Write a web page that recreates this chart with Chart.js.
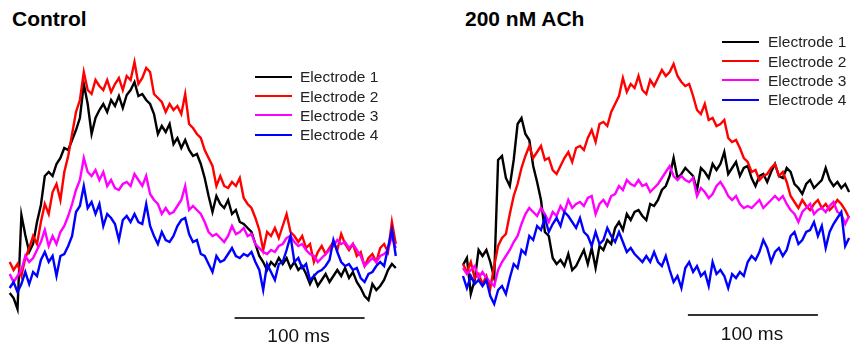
<!DOCTYPE html>
<html>
<head>
<meta charset="utf-8">
<script src="https://cdn.jsdelivr.net/npm/chart.js@4"></script>
<style>
  html, body { margin:0; padding:0; background:#fff; }
  body { width:854px; height:352px; position:relative; overflow:hidden; font-family:"Liberation Sans", Arial, sans-serif; color:#111; }
  canvas { position:absolute; }
  .title { position:absolute; font-weight:bold; font-size:21px; line-height:21px; color:#000; white-space:nowrap; }
  .leg { position:absolute; font-size:15.5px; line-height:15.5px; color:#222; white-space:nowrap; }
  .legline { position:absolute; height:2px; width:37px; }
  .sb { position:absolute; font-size:19px; line-height:19px; color:#111; white-space:nowrap; transform:translateX(-50%); }
</style>
</head>
<body>
<canvas id="c1" width="427" height="300" style="left:0px;top:30px;"></canvas>
<canvas id="c2" width="427" height="300" style="left:427px;top:30px;"></canvas>
<div id="overlay"></div>
<script>
// ---- data (time in ms, amplitudes in arbitrary units) ----
const timeMs = [0,3,6,9,12,15,18,21,24,27,30,33,36,39,42,45,48,51,54,57,60,63,66,69,72,75,78,81,84,87,90,93,96,99,102,105,108,111,114,117,120,123,126,129,132,135,138,141,144,147,150,153,156,159,162,165,168,171,174,177,180,183,186,189,192,195,198,201,204,207,210,213,216,219,222,225,228,231,234,237,240,243,246,249,252,255,258,261,264,267,270,273,276,279,282,285,288,291,294,297];

const seriesNames = ["Electrode 1","Electrode 2","Electrode 3","Electrode 4"];
const panelTitles = ["Control","200 nM ACh"];
const scaleBarLabel = "100 ms";
const scaleBarTime = [173, 273];

// Control
const ctrlE1 = [3.5,1,-4.5,42.5,32.5,24,28,39,47.5,62,
  64,62,68,71,76,75,80,85,91,108,
  98,83,91,95,98,94,100,97,102,96,
  102.5,105,109,102,103,100,98,93,83,87,
  84,88,78,81,76,80,75,72,73,68,
  61,52,44,52,48,46,50,43,45,39,
  38,36,34,28,22,19,15,19,17,21,
  18,21,16,19,15,17,13,8,12,7,
  10,13,9,12,15,12,16,11,14,9,
  6,2,0,8,5,7,10,15,18,16];
const ctrlE2 = [19,15,18,12,21,26,32,28,39,48,
  43,54,58,50,64,72,83,94,100,114,
  105,103,110,107,105,110,104,108,111,105,
  112,110,119,108,111,116,114,103,101,99,
  94,98,95,97,93,103,88,86,83,81,
  75,71,67,57,62,57,56,59,57,61,
  51,48,46,41,35,25,34,32,36,31,
  37,43,34,32,29,32,26,28,19,24,
  27,23,26,29,25,33,28,25,28,22,
  24,17,21,23,19,26,28,24,39,28];
const ctrlE3 = [13,9,12,15,22,19,21,25,29,35,
  27,32,28,34,37,42,48,55,60,71,
  64,62,65,60,64,57,60,56,55,58,
  59,57,63,60,57,62,53,50,48,43,
  46,43,44,47,50,57,45,47,45,43,
  39,34,32,33,31,29,32,37,33,34,
  36,32,33,28,26,24,23,25,24,27,
  28,31,32,29,27,28,25,23,22,19,
  21,23,25,27,30,28,29,26,28,25,
  22,17,19,21,19,22,23,25,32,26];
const ctrlE4 = [6,9,4,8,14,8,14,12,20,24,
  19,22,12,22,23,27,32,44,47,57,
  46,49,43,48,37,43,41,38,30,40,
  42,39,43,39,38,48,37,32,28,34,
  30,29,32,37,40,41,33,29,30,23,
  22,18,14,22,19,20,23,26,22,21,
  23,22,24,19,15,5,18,14,10,18,
  19,25,32,19,21,16,18,10,12,14,
  15,17,20,30,24,19,17,18,15,16,
  11,9,13,14,17,19,17,26,35,22];

// 200 nM ACh
const achE1 = [17.5,21,3,10,25,22,25,19,11,70,
  72,61,57,70,88,91,83,80,67,59,
  50,34,32,21,18,20,17,23,15,17,
  21,25,18,26,16,27,25,30,28,36,
  39,35,43,40,44,45,42,40,48,47,
  50,55,57,62,71,61,63,66,64,62,
  55,66,64,61,68,65,68,74,63,66,
  69,62,66,67,61,57,62,63,59,64,
  68,62,61,66,64,58,56,53,58,60,
  56,58,60,66,60,57,59,56,58,54];
const achE2 = [18,14,19,11,13,8,12,6,17,27,
  31,33,43,52,58,66,72,77,71,74,
  77,70,71,65,63,67,71,74,69,76,
  77,75,81,85,79,88,89,87,94,98,
  102,111,104,108,106,112,105,103,110,107,
  111,115,112,114,118,112,109,107,108,102,
  95,93,98,90,91,87,88,90,81,79,
  80,76,71,69,64,65,60,62,63,66,
  68,62,64,59,52,49,46,50,47,45,
  48,50,46,48,45,47,50,48,45,41];
const achE3 = [16,13,15,17,11,14,11,9,7,15,
  19,22,25,29,32,38,43,46,44,42,
  46,43,39,44,42,47,44,50,46,48,
  49,47,51,52,43,48,50,47,52,53,
  57,55,60,58,57,60,57,58,54,56,
  58,61,64,67,62,60,62,60,59,61,
  52,56,54,51,53,57,59,56,52,50,
  52,48,46,47,46,48,50,46,48,50,
  52,50,52,48,45,43,39,44,46,48,
  43,45,46,44,47,49,44,43,38,42];
const achE4 = [12,6,12,8,10,7,10,2,-2,5,
  7,3,11,18,16,25,23,32,30,37,
  35,41,34,38,41,37,44,42,39,36,
  41,34,32,27,34,28,30,36,32,29,
  34,29,24,26,23,21,19,22,19,24,
  19,17,22,15,9,12,6,16,19,14,
  17,12,14,7,19,13,15,12,6,13,
  11,14,12,19,22,20,24,30,26,19,
  24,26,22,25,32,34,28,30,34,35,
  39,32,37,26,34,38,41,44,27,31];

// ---- styling ----
const colors = ["#000000","#ff0000","#ff00ff","#0000ff"];

function pts(arr){ return arr.map((v,i)=>({x:timeMs[i], y:v})); }

function makeChart(id, series, xmin, xmax, barY){
  const ds = series.map((arr,k)=>({
    label: seriesNames[k],
    data: pts(arr),
    borderColor: colors[k],
    borderWidth: 2.4,
    pointRadius: 0,
    tension: 0,
    fill: false,
    clip: false,
    order: 4 - k
  }));
  ds.push({
    label: "scale",
    data: [{x:scaleBarTime[0], y:barY},{x:scaleBarTime[1], y:barY}],
    borderColor: "#333333",
    borderWidth: 2,
    pointRadius: 0,
    clip: false,
    order: 10
  });
  return new Chart(document.getElementById(id), {
    type: "line",
    data: { datasets: ds },
    options: {
      responsive: false,
      animation: false,
      devicePixelRatio: 1,
      layout: { padding: 0 },
      plugins: { legend: { display: false }, tooltip: { enabled: false } },
      scales: {
        x: { type: "linear", min: xmin, max: xmax, display: false },
        y: { type: "linear", min: -15, max: 135, display: false }
      }
    }
  });
}

makeChart("c1", [ctrlE1, ctrlE2, ctrlE3, ctrlE4], -7.46, 321.0, -9);
makeChart("c2", [achE1, achE2, achE3, achE4], -27.69, 300.77, -7.5);

// ---- text overlay: titles, legends, scale-bar labels ----
const ov = document.getElementById("overlay");
function add(html){ ov.insertAdjacentHTML("beforeend", html); }
add(`<div class="title" style="left:12px;top:8px;">${panelTitles[0]}</div>`);
add(`<div class="title" style="left:465px;top:8px;">${panelTitles[1]}</div>`);

const legendPanels = [{lx:255, tx:300, y0:77}, {lx:722, tx:768, y0:42}];
legendPanels.forEach(p=>{
  seriesNames.forEach((n,k)=>{
    const y = p.y0 + k*19.2;
    add(`<div class="legline" style="left:${p.lx}px;top:${(y-1).toFixed(1)}px;background:${colors[k]};"></div>`);
    add(`<div class="leg" style="left:${p.tx}px;top:${(y-7.6).toFixed(1)}px;">${n}</div>`);
  });
});
add(`<div class="sb" style="left:298.5px;top:326px;">${scaleBarLabel}</div>`);
add(`<div class="sb" style="left:752px;top:324px;">${scaleBarLabel}</div>`);
</script>
</body>
</html>
